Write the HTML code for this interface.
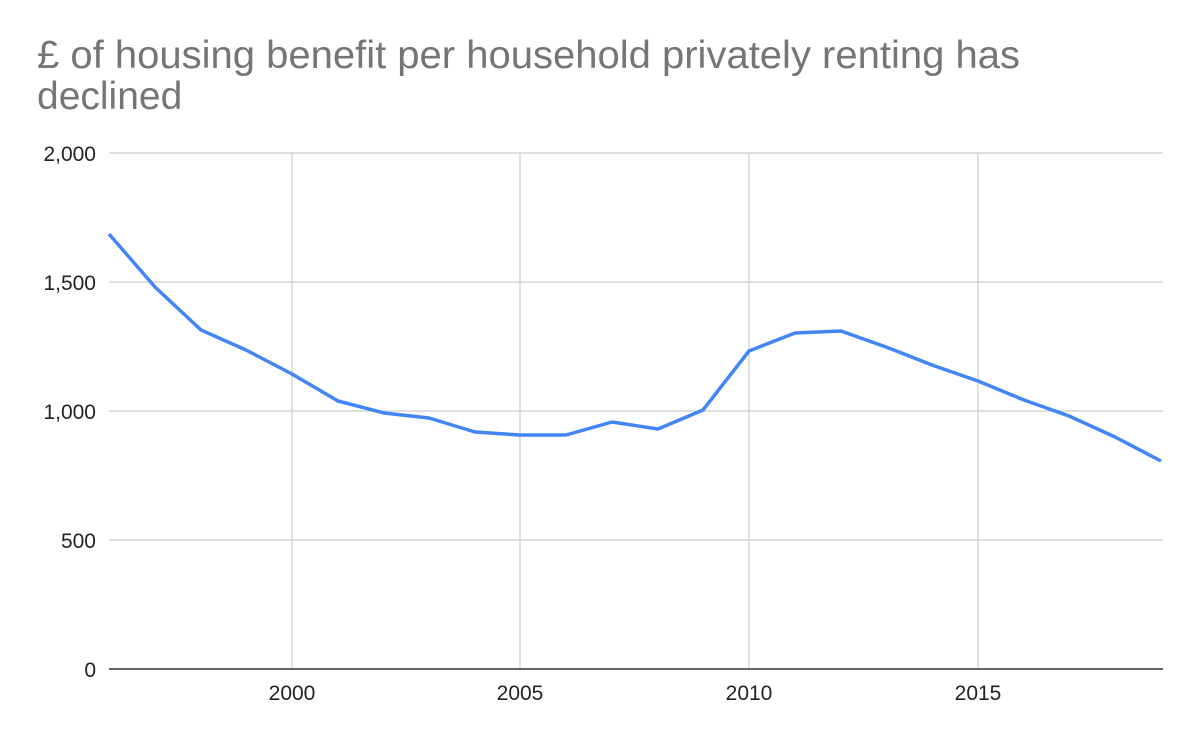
<!DOCTYPE html>
<html><head><meta charset="utf-8"><style>
body{margin:0;background:#fff;}
svg{display:block;font-family:"Liberation Sans",Arial,sans-serif;}
</style></head><body>
<svg width="1200" height="742" viewBox="0 0 1200 742">
<rect width="1200" height="742" fill="#fff"/>
<text x="37" y="68" font-size="39" fill="#757575" textLength="983" lengthAdjust="spacingAndGlyphs">£ of housing benefit per household privately renting has</text>
<text x="37" y="109" font-size="39" fill="#757575">declined</text>
<g stroke="#cccccc" stroke-width="1.2">
<line x1="109" y1="153" x2="1163" y2="153"/>
<line x1="109" y1="282" x2="1163" y2="282"/>
<line x1="109" y1="411" x2="1163" y2="411"/>
<line x1="109" y1="540" x2="1163" y2="540"/>
<line x1="292" y1="153" x2="292" y2="669"/>
<line x1="520" y1="153" x2="520" y2="669"/>
<line x1="749" y1="153" x2="749" y2="669"/>
<line x1="978" y1="153" x2="978" y2="669"/>
</g>
<line x1="109" y1="669" x2="1163" y2="669" stroke="#333" stroke-width="1.5"/>
<g font-size="21" fill="#222" text-anchor="end">
<text x="96" y="161">2,000</text>
<text x="96" y="290">1,500</text>
<text x="96" y="419">1,000</text>
<text x="96" y="548">500</text>
<text x="96" y="677">0</text>
</g>
<g font-size="21" fill="#222" text-anchor="middle">
<text x="292" y="700">2000</text>
<text x="520" y="700">2005</text>
<text x="749" y="700">2010</text>
<text x="978" y="700">2015</text>
</g>
<polyline fill="none" stroke="#4285f4" stroke-width="3.5" stroke-linejoin="round" points="
109,234 155,287 201,330 246,350 292,374 338,401 384,413 429,418 475,432 520,435 566,435 612,422 658,429 703,410 749,351 795,333 841,331 886,347 932,365 978,381 1024,400 1069,416 1115,437 1161,461"/>
</svg>
</body></html>
